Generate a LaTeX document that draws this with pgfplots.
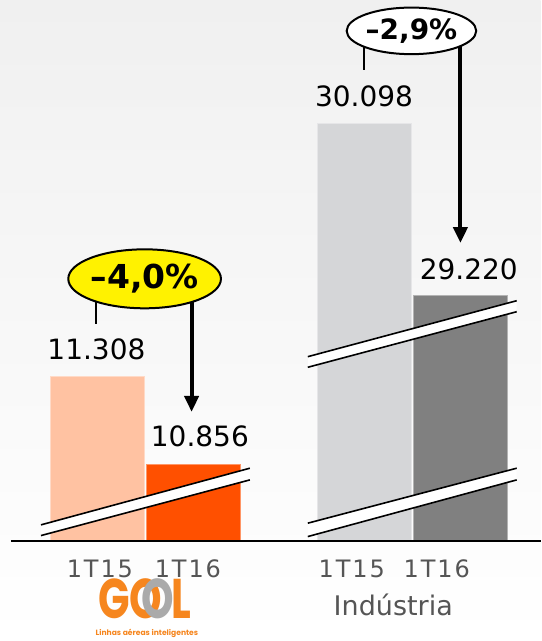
\documentclass[border=0pt]{standalone}
\usepackage{fontspec}
\setmainfont{DejaVu Sans}
\newfontfamily\tickfont[LetterSpace=8]{DejaVu Sans}
\newfontfamily\logofont{Poppins}
\usepackage{pgfplots}
\pgfplotsset{compat=1.18}
\usetikzlibrary{shapes.geometric,arrows.meta}

\definecolor{golA}{RGB}{255,194,162}
\definecolor{golB}{RGB}{255,80,0}
\definecolor{indA}{RGB}{213,214,216}
\definecolor{indB}{RGB}{128,128,128}
\definecolor{bgtop}{RGB}{240,240,240}
\definecolor{tickgray}{RGB}{85,85,85}
\definecolor{callout}{RGB}{255,242,0}
\definecolor{logoorange}{RGB}{246,134,30}
\definecolor{logogray}{RGB}{170,170,170}

% white break band with its two black edges
\newcommand\brk[8]{%
  \fill[white] (axis cs:#1,#2) -- (axis cs:#3,#4) -- (axis cs:#7,#8) -- (axis cs:#5,#6) -- cycle;
  \draw[line width=0.8pt] (axis cs:#1,#2) -- (axis cs:#3,#4);
  \draw[line width=0.8pt] (axis cs:#5,#6) -- (axis cs:#7,#8);
}

\begin{document}
\begin{tikzpicture}
\begin{axis}[
  x=0.5pt, y=0.5pt,
  xmin=0, xmax=541, ymin=-100, ymax=541,
  axis line style={draw=none},
  major tick length=0pt,
  ytick=\empty,
  xtick={100,188,352,437},
  xticklabels={1T15,1T16,1T15,1T16},
  xticklabel style={font=\tickfont\fontsize{12}{12}\selectfont, text=tickgray, anchor=base, yshift=31.5pt},
  ybar, bar shift=0pt, bar width=94,
  axis background/.style={top color=bgtop, bottom color=white},
  clip=false,
]
% broken axis: each group starts at its own base value
\addplot[fill=golA, draw=golA!60!white, y filter/.expression={(y-10.466)*196}] coordinates {(97.5,11.308)};
\addplot[fill=golB, draw=golB!60!white, y filter/.expression={(y-10.466)*196}] coordinates {(193.5,10.856)};
\addplot[fill=indA, draw=indA!60!white, y filter/.expression={(y-27.965)*196}] coordinates {(365,30.098)};
\addplot[fill=indB, draw=indB!60!white, y filter/.expression={(y-27.965)*196}] coordinates {(460.5,29.220)};

\brk{41}{16}{250}{72.7}{41}{5.3}{250}{61}
\brk{308}{17.7}{517}{72.7}{308}{4.3}{517}{61}
\brk{308}{184.3}{517}{240.3}{308}{173.7}{517}{229.3}

\draw[line width=1pt] (axis cs:11,0) -- (axis cs:541,0);

\node[anchor=base, font=\fontsize{14}{14}\selectfont] at (axis cs:96.5,181) {11.308};
\node[anchor=base, font=\fontsize{14}{14}\selectfont] at (axis cs:200,94.3) {10.856};
\node[anchor=base, font=\fontsize{14}{14}\selectfont] at (axis cs:364.3,435) {30.098};
\node[anchor=base, font=\fontsize{14}{14}\selectfont] at (axis cs:469,261.7) {29.220};

\draw[line width=1pt] (axis cs:96,260) -- (axis cs:96,217);
\draw[line width=2pt, -{Triangle[width=7pt,length=8pt]}] (axis cs:191.7,260) -- (axis cs:191.7,129);
\node[ellipse, draw, line width=1pt, fill=callout, inner sep=0pt, minimum width=75pt, minimum height=29.5pt,
  font=\bfseries\fontsize{16.5}{16.5}\selectfont] at (axis cs:144.7,262.2) {–4,0\%};

\draw[line width=1pt] (axis cs:364.3,506) -- (axis cs:364.3,471);
\draw[line width=2pt, -{Triangle[width=7pt,length=8pt]}] (axis cs:460.7,506) -- (axis cs:460.7,298);
\node[ellipse, draw, line width=1pt, fill=white, inner sep=0pt, minimum width=59.4pt, minimum height=23.3pt,
  font=\bfseries\fontsize{14}{14}\selectfont] at (axis cs:411.7,510.3) {–2,9\%};

\node[anchor=base, text=tickgray, font=\fontsize{13.5}{13.5}\selectfont] at (axis cs:393.5,-75) {Indústria};

% GOL logo
\node[anchor=base, inner sep=0pt, font=\logofont\bfseries\fontsize{28}{28}\selectfont] at (axis cs:145,-78)
  {\raisebox{0pt}[\height][0pt]{\scalebox{0.74}[1]{\textcolor{logoorange}{G}\kern-0.5pt\textcolor{logoorange}{O}\kern-14pt\textcolor{logogray}{O}\kern-2pt\textcolor{logoorange}{L}}}};
\node[inner sep=0pt, text=logoorange, font=\logofont\bfseries\fontsize{3.8}{4}\selectfont] at (axis cs:147,-93) {Linhas aéreas inteligentes};
\end{axis}
\end{tikzpicture}
\end{document}
